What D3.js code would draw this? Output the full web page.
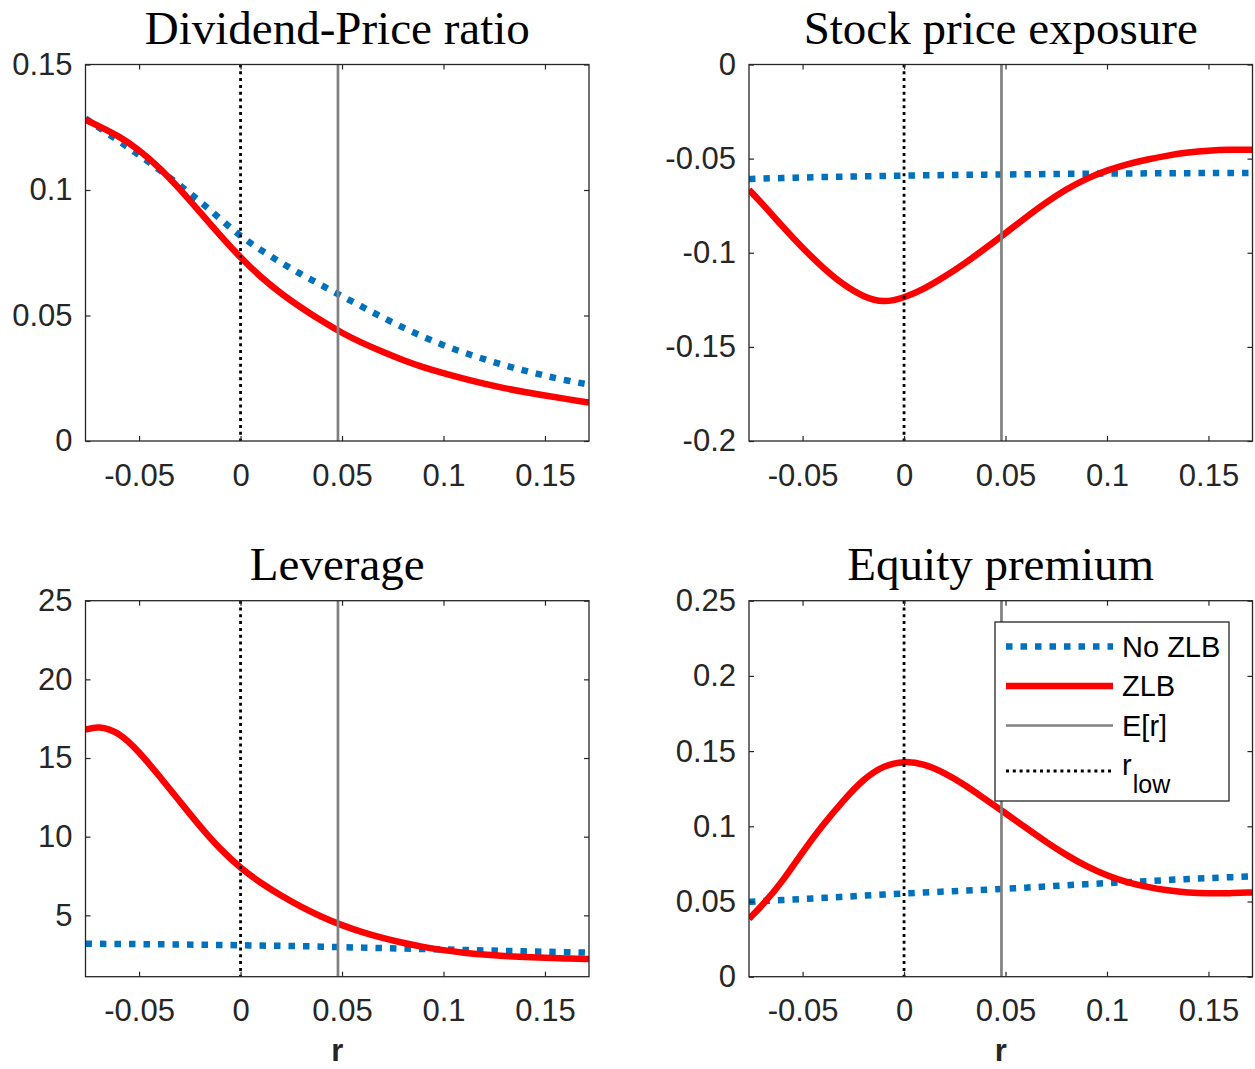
<!DOCTYPE html>
<html><head><meta charset="utf-8">
<script src="https://cdn.jsdelivr.net/npm/d3@7"></script>
<style>body{margin:0;background:#fff} svg{display:block}</style>
</head><body>
<svg id="c" width="1255" height="1069"></svg>
<script>
// ---- data ----
const rGrid = [-0.0764,-0.07,-0.06,-0.05,-0.04,-0.03,-0.02,-0.01,0,0.01,0.02,0.03,0.04,0.05,0.06,0.07,0.08,0.09,0.10,0.11,0.12,0.13,0.14,0.15,0.16,0.1717];
const dpZLB   = [0.1280,0.1255,0.1215,0.1160,0.1090,0.1005,0.0912,0.0818,0.0730,0.0652,0.0587,0.0530,0.0478,0.0430,0.0390,0.0355,0.0322,0.0294,0.0270,0.0248,0.0228,0.0210,0.0195,0.0181,0.0168,0.0153];
const dpNoZLB = [0.1285,0.1250,0.1195,0.1140,0.1080,0.1020,0.0955,0.0885,0.0815,0.0760,0.0710,0.0663,0.0620,0.0577,0.0535,0.0492,0.0452,0.0415,0.0381,0.0352,0.0326,0.0302,0.0280,0.0260,0.0242,0.0225];
const spZLB   = [-0.0665,-0.0737,-0.0860,-0.0975,-0.1080,-0.1170,-0.1235,-0.1266,-0.1240,-0.1192,-0.1128,-0.1056,-0.0978,-0.0896,-0.0812,-0.0732,-0.0662,-0.0605,-0.0562,-0.0530,-0.0504,-0.0483,-0.0467,-0.0457,-0.0452,-0.0453];
const spNoZLB = [-0.0608,-0.0606,-0.0603,-0.0600,-0.0598,-0.0596,-0.0594,-0.0592,-0.0590,-0.0589,-0.0587,-0.0586,-0.0585,-0.0584,-0.0583,-0.0582,-0.0581,-0.0580,-0.0579,-0.0579,-0.0578,-0.0578,-0.0577,-0.0577,-0.0577,-0.0577];
const levZLB  = [16.80,17.05,16.65,15.40,13.85,12.25,10.65,9.20,8.00,7.05,6.25,5.52,4.90,4.36,3.92,3.56,3.25,2.99,2.78,2.62,2.50,2.41,2.35,2.30,2.26,2.22];
const levNoZLB= [3.20,3.19,3.18,3.17,3.16,3.15,3.13,3.12,3.10,3.08,3.06,3.04,3.01,2.98,2.95,2.92,2.89,2.86,2.83,2.80,2.77,2.74,2.71,2.69,2.66,2.63];
const epZLB   = [0.0385,0.0472,0.0630,0.0830,0.1010,0.1170,0.1315,0.1405,0.1435,0.1415,0.1355,0.1275,0.1180,0.1088,0.0990,0.0895,0.0808,0.0732,0.0672,0.0627,0.0596,0.0573,0.0559,0.0554,0.0555,0.0560];
const epNoZLB = [0.0498,0.0503,0.0510,0.0517,0.0524,0.0531,0.0539,0.0546,0.0553,0.0560,0.0566,0.0572,0.0578,0.0585,0.0592,0.0600,0.0608,0.0615,0.0622,0.0629,0.0635,0.0643,0.0650,0.0656,0.0661,0.0667];

const xDomain = [-0.0764, 0.1717];
const xTicks = [-0.05, 0, 0.05, 0.1, 0.15];
const xTickLabels = ['-0.05','0','0.05','0.1','0.15'];
const rLow = 0, rMean = 0.048;

const titles = ['Dividend-Price ratio','Stock price exposure','Leverage','Equity premium'];
const yDomains = [[0,0.15],[-0.2,0],[1.1,25],[0,0.25]];
const yTicks = [[0,0.05,0.1,0.15],[-0.2,-0.15,-0.1,-0.05,0],[5,10,15,20,25],[0,0.05,0.1,0.15,0.2,0.25]];
const yTickLabels = [['0','0.05','0.1','0.15'],['-0.2','-0.15','-0.1','-0.05','0'],['5','10','15','20','25'],['0','0.05','0.1','0.15','0.2','0.25']];
const seriesNoZLB = [dpNoZLB, spNoZLB, levNoZLB, epNoZLB];
const seriesZLB = [dpZLB, spZLB, levZLB, epZLB];
const legendLabels = ['No ZLB','ZLB','E[r]','r'];

// ---- layout ----
const cols = [[85.5,589],[749,1252.5]];
const rows = [[64.5,441],[600.7,976.7]];
const AX = '#262626';
const BLUE = '#0072BD', RED = '#FF0000', GRAY = '#808080';
const tickFont = 'Liberation Sans, Arial, Helvetica, sans-serif';

const svg = d3.select('#c');

const styleBlue = p => p.attr('stroke',BLUE).attr('stroke-width',6.5).attr('stroke-dasharray','6.5 8').attr('fill','none');
const styleRed = p => p.attr('stroke',RED).attr('stroke-width',6.5).attr('fill','none');
const styleGray = p => p.attr('stroke',GRAY).attr('stroke-width',2.7);
const styleBlack = p => p.attr('stroke','#000').attr('stroke-width',2.8).attr('stroke-dasharray','3 3.8');

for (let i = 0; i < 4; i++) {
  const [x0,x1] = cols[i%2];
  const [y0,y1] = rows[Math.floor(i/2)];
  const x = d3.scaleLinear().domain(xDomain).range([x0,x1]);
  const y = d3.scaleLinear().domain(yDomains[i]).range([y1,y0]);
  const g = svg.append('g');

  const clipId = 'clip'+i;
  svg.append('clipPath').attr('id',clipId).append('rect')
    .attr('x',x0).attr('y',y0).attr('width',x1-x0).attr('height',y1-y0);

  const pts = s => rGrid.map((r,k)=>[r,s[k]]);
  const line = d3.line().x(d=>x(d[0])).y(d=>y(d[1])).curve(d3.curveBasis);
  const plot = g.append('g').attr('clip-path',`url(#${clipId})`);
  plot.append('path').attr('d',line(pts(seriesNoZLB[i]))).call(styleBlue);
  plot.append('path').attr('d',line(pts(seriesZLB[i]))).call(styleRed);
  plot.append('line').attr('x1',x(rMean)).attr('x2',x(rMean)).attr('y1',y0).attr('y2',y1).call(styleGray);
  plot.append('line').attr('x1',x(rLow)).attr('x2',x(rLow)).attr('y1',y0).attr('y2',y1).call(styleBlack);

  // axes
  const bottom = g.append('g').attr('transform',`translate(0,${y1})`)
    .call(d3.axisBottom(x).tickValues(xTicks).tickFormat((d,k)=>xTickLabels[k]).tickSizeInner(-5).tickSizeOuter(0).tickPadding(22.5));
  const top = g.append('g').attr('transform',`translate(0,${y0})`)
    .call(d3.axisTop(x).tickValues(xTicks).tickFormat('').tickSizeInner(-5).tickSizeOuter(0));
  const left = g.append('g').attr('transform',`translate(${x0},0)`)
    .call(d3.axisLeft(y).tickValues(yTicks[i]).tickFormat((d,k)=>yTickLabels[i][k]).tickSizeInner(-5).tickSizeOuter(0).tickPadding(13));
  const right = g.append('g').attr('transform',`translate(${x1},0)`)
    .call(d3.axisRight(y).tickValues(yTicks[i]).tickFormat('').tickSizeInner(-5).tickSizeOuter(0));
  [bottom,top,left,right].forEach(a=>{
    a.select('.domain').remove();
    a.selectAll('line').attr('stroke',AX).attr('stroke-width',1.2);
    a.selectAll('text').attr('fill',AX).style('font-family',tickFont).style('font-size','31px');
  });
  g.append('rect').attr('x',x0).attr('y',y0).attr('width',x1-x0).attr('height',y1-y0)
    .attr('fill','none').attr('stroke',AX).attr('stroke-width',1.3);

  // title
  g.append('text').attr('x',(x0+x1)/2).attr('y',y0-21).attr('text-anchor','middle')
    .style('font-family','Liberation Serif, Times New Roman, serif').style('font-size','47px')
    .attr('fill','#000').text(titles[i]);

  if (i >= 2) {
    g.append('text').attr('x',(x0+x1)/2).attr('y',1061).attr('text-anchor','middle')
      .style('font-family',tickFont).style('font-size','31px').style('font-weight','bold')
      .attr('fill',AX).text('r');
  }

  if (i === 3) {
    const lg = g.append('g');
    lg.append('rect').attr('x',995).attr('y',622).attr('width',234).attr('height',179)
      .attr('fill','#fff').attr('stroke',AX).attr('stroke-width',1.3);
    const rowY = [646.5, 686, 725.5, 771];
    const styles = [styleBlue, styleRed, styleGray, styleBlack];
    legendLabels.forEach((lab,k)=>{
      lg.append('line').attr('x1',1006).attr('x2',1113).attr('y1',rowY[k]).attr('y2',rowY[k]).call(styles[k]);
      const t = lg.append('text').attr('x',1122).attr('fill','#000')
        .style('font-family',tickFont).style('font-size','29px');
      if (k < 3) {
        t.attr('y',rowY[k]).attr('dy','0.36em').text(lab);
      } else {
        t.attr('y',775).text(lab);
        t.append('tspan').attr('dy',18).attr('dx',1).style('font-size','25px').text('low');
      }
    });
  }
}
</script>
</body></html>
